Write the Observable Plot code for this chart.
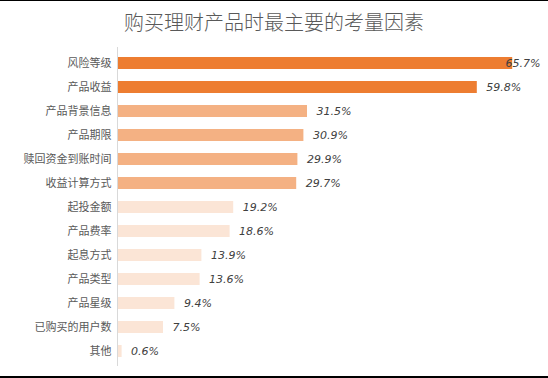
<!DOCTYPE html>
<html>
<head>
<meta charset="utf-8">
<script src="https://cdn.jsdelivr.net/npm/d3@7"></script>
<script src="https://cdn.jsdelivr.net/npm/@observablehq/plot@0.6"></script>
<style>
  html, body { margin: 0; padding: 0; background: #fff; }
  #frame { width: 548px; height: 378px; box-sizing: border-box; border-top: 1px solid #000; border-bottom: 2px solid #000; overflow: hidden; }
  #title { height: 39px; line-height: 42px; text-align: center; font-family: "Noto Sans CJK SC", sans-serif; font-size: 20px; font-weight: 300; color: #595959; }
  #chart svg { display: block; }
</style>
</head>
<body>
<div id="frame">
  <div id="title">购买理财产品时最主要的考量因素</div>
  <div id="chart"></div>
</div>
<script>
const categories = ["风险等级","产品收益","产品背景信息","产品期限","赎回资金到账时间","收益计算方式","起投金额","产品费率","起息方式","产品类型","产品星级","已购买的用户数","其他"];
const values = [65.7, 59.8, 31.5, 30.9, 29.9, 29.7, 19.2, 18.6, 13.9, 13.6, 9.4, 7.5, 0.6];
const tiers = ["高","高","中","中","中","中","低","低","低","低","低","低","低"];
const tierNames = ["高","中","低"];
const tierColors = ["#ED7D31","#F4B183","#FBE5D6"];

const data = categories.map((c, i) => ({ name: c, value: values[i], tier: tiers[i] }));
const maxVal = d3.max(values);

const chart = Plot.plot({
  width: 548,
  height: 336,
  marginLeft: 118,
  marginRight: 10,
  marginTop: 7,
  marginBottom: 10,
  style: { fontFamily: "'Noto Sans CJK SC', sans-serif", fontSize: "11px", color: "#595959", background: "#fff" },
  x: { domain: [0, 70], axis: null },
  y: { domain: categories, paddingInner: 0.5, paddingOuter: 0.25, label: null, tickSize: 0, tickPadding: 7 },
  color: { domain: tierNames, range: tierColors },
  marks: [
    Plot.barX(data, { y: "name", x: "value", fill: "tier" }),
    Plot.ruleX([0], { stroke: "#D9D9D9", strokeWidth: 1, dx: -1 }),
    Plot.text(data.filter(d => d.value !== maxVal), {
      y: "name", x: "value", text: d => d.value.toFixed(1) + "%",
      textAnchor: "start", dx: 9, fill: "#404040",
      fontSize: 11, fontStyle: "italic", fontFamily: "DejaVu Sans", letterSpacing: 0.5
    }),
    Plot.text(data.filter(d => d.value === maxVal), {
      y: "name", x: () => 70, text: d => d.value.toFixed(1) + "%",
      textAnchor: "end", dx: 2, fill: "#404040",
      fontSize: 11, fontStyle: "italic", fontFamily: "DejaVu Sans", letterSpacing: 0.5
    })
  ]
});
document.getElementById("chart").appendChild(chart);
</script>
</body>
</html>
